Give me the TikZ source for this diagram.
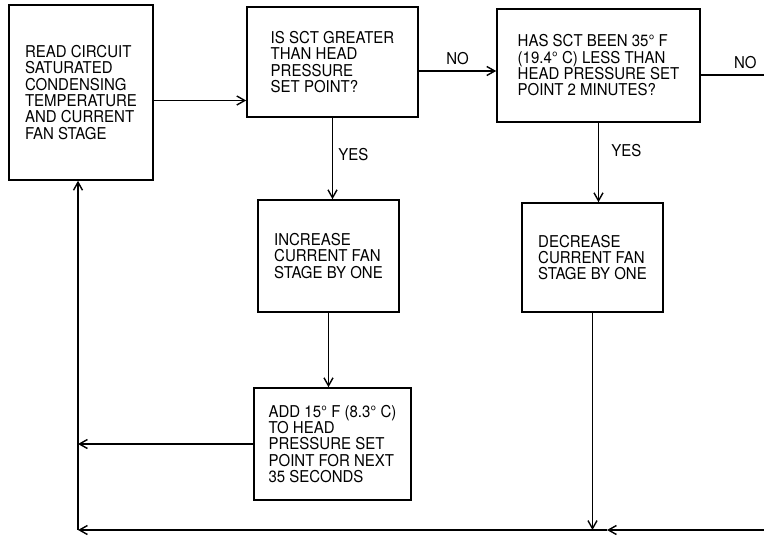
\documentclass[tikz,border=0pt]{standalone}
\usepackage{fontspec}
\setmainfont[FakeStretch=0.92]{TeX Gyre Heros}
\usepackage{tikz}
\usetikzlibrary{arrows.meta,positioning}

\begin{document}
\begin{tikzpicture}[
    x=1pt, y=-1pt,
    box/.style={draw, line width=1.6pt, align=left, inner sep=0pt,
                font=\fontsize{16.3}{16.3}\selectfont},
    lbl/.style={font=\fontsize{16.3}{16.3}\selectfont, inner sep=2pt},
    arrow/.style={-{Straight Barb[length=8pt, width=9pt, line width=1.4pt]}, line width=1.5pt}
]
\useasboundingbox (0,0) rectangle (764,539);

\node[box, minimum width=144pt, minimum height=175pt] (read) at (81,92.5)
    {READ CIRCUIT\\SATURATED\\CONDENSING\\TEMPERATURE\\AND CURRENT\\FAN STAGE};
\node[box, minimum width=171pt, minimum height=110pt] (cmp) at (332.5,62)
    {IS SCT GREATER\\THAN HEAD\\PRESSURE\\SET POINT?};
\node[box, minimum width=203pt, minimum height=113pt] (chk) at (598.5,65.5)
    {HAS SCT BEEN 35° F\\(19.4° C) LESS THAN\\HEAD PRESSURE SET\\POINT 2 MINUTES?};
\node[box, minimum width=141pt, minimum height=112pt] (inc) at (328.5,256)
    {INCREASE\\CURRENT FAN\\STAGE BY ONE};
\node[box, minimum width=157pt, minimum height=112pt] (add) at (332.5,444)
    {ADD 15° F (8.3° C)\\TO HEAD\\PRESSURE SET\\POINT FOR NEXT\\35 SECONDS};
\node[box, minimum width=141pt, minimum height=109pt] (dec) at (592.5,257.5)
    {DECREASE\\CURRENT FAN\\STAGE BY ONE};

% return loop
\coordinate (bl) at (78,530);
\coordinate (br) at (790,530);
\coordinate (tr) at (790,75);
\coordinate (mid) at (607,530);

\draw[arrow] ([yshift=-8pt]read.east) -- ([yshift=-8pt]read.east -| cmp.west);
\draw[arrow] ([yshift=-9pt]cmp.east) -- ([yshift=-9pt]cmp.east -| chk.west)
    node[lbl, midway, above=3pt] {NO};
\draw[arrow] ([yshift=-9.5pt]chk.east) -- ([yshift=-9.5pt]chk.east -| tr)
    node[lbl, pos=0.5, above=3pt] {NO} -- (br) -- (mid);
\draw[arrow] (cmp.south) -- (cmp.south |- inc.north)
    node[lbl, pos=0.45, right=3pt] {YES};
\draw[arrow] (chk.south) -- (chk.south |- dec.north)
    node[lbl, pos=0.35, right=10pt] {YES};
\draw[arrow] (inc.south) -- (inc.south |- add.north);
\draw[arrow] (dec.south) -- (dec.south |- bl);
\draw[arrow] (add.west) -- (add.west -| bl);
\draw[arrow] (mid) -- (bl);
\draw[arrow] (bl) -- (bl |- read.south);
\end{tikzpicture}
\end{document}
